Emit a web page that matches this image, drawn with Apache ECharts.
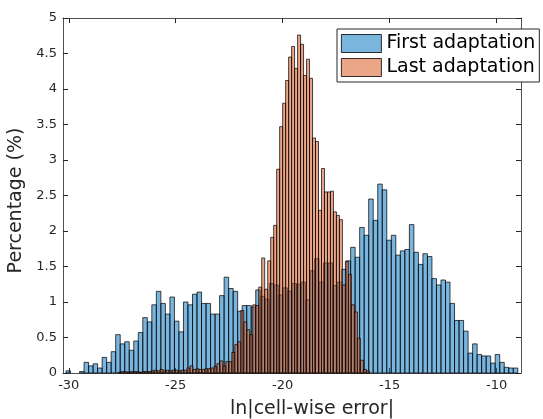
<!DOCTYPE html>
<html>
<head>
<meta charset="utf-8">
<script src="https://cdn.jsdelivr.net/npm/echarts@6/dist/echarts.min.js"></script>
<style>
html, body { margin: 0; padding: 0; background: #fff; }
#chart { width: 543px; height: 419px; }
</style>
</head>
<body>
<div id="chart"></div>
<script>
// histogram bins (percent per bin)
var xTicks = [-30, -25, -20, -15, -10];
var seriesNames = ['First adaptation', 'Last adaptation'];

var firstStart = -30.13, firstWidth = 0.2112;
var firstValues = [
	0.03, 0, 0, 0.02, 0.15, 0.10, 0.13, 0.07, 0.22, 0.15,
	0.30, 0.54, 0.41, 0.44, 0.32, 0.45, 0.57, 0.78, 0.72, 0.96,
	1.15, 0.98, 0.83, 1.07, 0.73, 0.58, 1.00, 0.96, 1.11, 1.14,
	0.98, 0.98, 0.83, 0.83, 1.09, 1.35, 1.19, 1.15, 0.87, 0.95,
	0.95, 0.93, 1.17, 1.08, 1.04, 1.26, 1.24, 1.10, 1.20, 1.15,
	1.26, 1.25, 1.28, 1.03, 1.44, 1.61, 1.28, 1.55, 1.55, 1.23,
	1.28, 1.46, 1.58, 1.77, 1.63, 2.05, 1.94, 2.45, 2.15, 2.66,
	2.58, 1.87, 1.94, 1.66, 1.72, 1.74, 2.09, 1.70, 1.53, 1.68,
	1.64, 1.33, 1.24, 1.31, 1.28, 0.98, 0.74, 0.74, 0.59, 0.28,
	0.41, 0.26, 0.24, 0.24, 0.14, 0.26, 0.15, 0.08, 0.07, 0.07
];

var lastStart = -27.686, lastWidth = 0.1397;
var lastValues = [
	0.01, 0.02, 0.02, 0.01, 0.02, 0.02, 0.02, 0.01, 0.02, 0.02, 0.02,
	0.03, 0.04, 0.03, 0.05, 0.03, 0.04, 0.03, 0.04, 0.04, 0.03, 0.04, 0.04,
	0.07, 0.10, 0.05, 0.06, 0.05, 0.05, 0.06, 0.06, 0.07,
	0.09, 0.13, 0.17, 0.10, 0.16, 0.16, 0.29, 0.40, 0.44, 0.88,
	0.72, 0.61, 0.54, 0.96, 0.95, 1.21, 1.62, 1.18, 1.58,
	1.91, 2.08, 2.87, 3.47, 3.80, 4.12, 4.45, 4.60, 4.29, 4.76,
	4.63, 4.19, 4.42, 4.15, 3.31, 3.26, 2.29, 2.88, 2.55, 2.55,
	2.56, 2.27, 2.22, 2.16, 1.24, 1.57, 1.39, 0.96, 0.86, 0.49,
	0.18, 0.05, 0.03
];

function toBins(start, width, values) {
	return values.map(function (v, i) {
		return [start + i * width, start + (i + 1) * width, v];
	});
}

function makeRender(fill) {
	return function (params, api) {
		var v = api.value(2);
		if (!v) return;
		var p0 = api.coord([api.value(0), v]);
		var p1 = api.coord([api.value(1), 0]);
		return {
			type: 'rect',
			shape: { x: p0[0], y: p0[1], width: p1[0] - p0[0], height: p1[1] - p0[1] },
			style: { fill: fill, stroke: 'rgba(0,0,0,0.9)', lineWidth: 0.8 }
		};
	};
}

var blueFill = 'rgba(0,114,189,0.52)';
var orangeFill = 'rgba(217,83,25,0.52)';
var axisColor = '#262626';
var fontFamily = 'DejaVu Sans';

var chart = echarts.init(document.getElementById('chart'), null, { renderer: 'canvas' });
chart.setOption({
	animation: false,
	textStyle: { fontFamily: fontFamily },
	grid: { left: 63, right: 22, top: 18, bottom: 46, containLabel: false, outerBoundsMode: 'none' },
	legend: {
		orient: 'vertical',
		left: 337,
		top: 29,
		padding: [5, 4, 5, 4],
		itemGap: 5,
		itemWidth: 40,
		itemHeight: 18,
		backgroundColor: '#fff',
		borderColor: axisColor,
		borderWidth: 1,
		textStyle: { fontSize: 19, color: '#000', fontFamily: fontFamily },
		data: [
			{ name: seriesNames[0], icon: 'rect', itemStyle: { color: blueFill, borderColor: '#000', borderWidth: 0.8 } },
			{ name: seriesNames[1], icon: 'rect', itemStyle: { color: orangeFill, borderColor: '#000', borderWidth: 0.8 } }
		]
	},
	xAxis: [{
		type: 'value',
		min: -30.27,
		max: -8.86,
		name: 'ln|cell-wise error|',
		nameLocation: 'middle',
		nameGap: 27,
		nameTextStyle: { fontSize: 19, color: axisColor, padding: [0, 0, 0, 40] },
		axisLine: { onZero: false, lineStyle: { color: axisColor, width: 0.8 } },
		axisTick: { inside: true, length: 5, customValues: xTicks, lineStyle: { color: axisColor } },
		axisLabel: { customValues: xTicks, fontSize: 13, color: axisColor, margin: 6 },
		splitLine: { show: false }
	}, {
		type: 'value',
		position: 'top',
		min: -30.27,
		max: -8.86,
		axisLine: { onZero: false, lineStyle: { color: axisColor, width: 0.8 } },
		axisTick: { inside: true, length: 5, customValues: xTicks, lineStyle: { color: axisColor } },
		axisLabel: { show: false },
		splitLine: { show: false }
	}],
	yAxis: [{
		type: 'value',
		min: 0,
		max: 5,
		interval: 0.5,
		name: 'Percentage (%)',
		nameLocation: 'middle',
		nameGap: 29,
		nameTextStyle: { fontSize: 19, color: axisColor, padding: [0, 10, 0, 0] },
		axisLine: { show: true, lineStyle: { color: axisColor, width: 0.8 } },
		axisTick: { show: true, inside: true, length: 5, lineStyle: { color: axisColor } },
		axisLabel: { fontSize: 13, color: axisColor, margin: 6 },
		splitLine: { show: false }
	}, {
		type: 'value',
		position: 'right',
		min: 0,
		max: 5,
		interval: 0.5,
		axisLine: { show: true, lineStyle: { color: axisColor, width: 0.8 } },
		axisTick: { show: true, inside: true, length: 5, lineStyle: { color: axisColor } },
		axisLabel: { show: false },
		splitLine: { show: false }
	}],
	series: [{
		name: seriesNames[0],
		type: 'custom',
		renderItem: makeRender(blueFill),
		itemStyle: { color: blueFill },
		encode: { x: [0, 1], y: 2 },
		data: toBins(firstStart, firstWidth, firstValues)
	}, {
		name: seriesNames[1],
		type: 'custom',
		renderItem: makeRender(orangeFill),
		itemStyle: { color: orangeFill },
		encode: { x: [0, 1], y: 2 },
		data: toBins(lastStart, lastWidth, lastValues)
	}]
});
</script>
</body>
</html>
